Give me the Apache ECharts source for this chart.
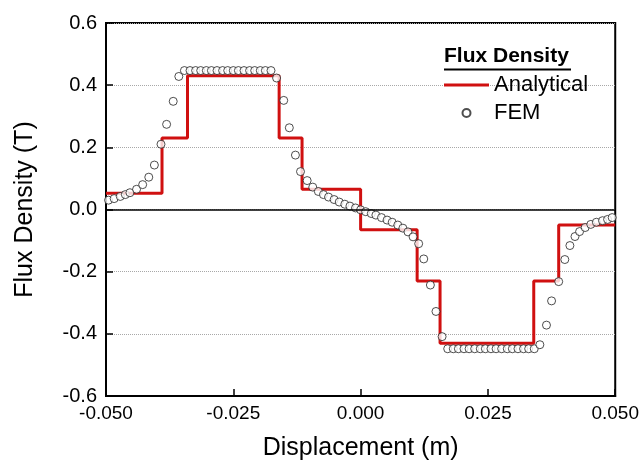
<!DOCTYPE html>
<html>
<head>
<meta charset="utf-8">
<script src="https://cdn.jsdelivr.net/npm/echarts@6/dist/echarts.min.js"></script>
<style>
  html, body { margin: 0; padding: 0; background: #fff; }
  #chart { width: 642px; height: 466px; }
</style>
</head>
<body>
<div id="chart"></div>
<script>
var FONT = '"Liberation Sans", Arial, sans-serif';

// analytical solution: step edges (m) and the level between each pair (T)
var stepEdges = [-0.05, -0.039, -0.034, -0.016, -0.0115, 0, 0.0111, 0.0156, 0.034, 0.0389, 0.05];
var stepLevels = [0.052, 0.23, 0.43, 0.23, 0.065, -0.065, -0.23, -0.43, -0.23, -0.05];

// FEM samples
var femX = [-0.0495, -0.0484, -0.0472, -0.0462, -0.0453, -0.0440, -0.0428, -0.0416, -0.0405, -0.0392,
  -0.0381, -0.0368, -0.0357, -0.0346, -0.0335, -0.0324, -0.0314, -0.0303, -0.0293, -0.0282,
  -0.0271, -0.0261, -0.0250, -0.0240, -0.0229, -0.0218, -0.0208, -0.0197, -0.0187, -0.0176,
  -0.0165, -0.0151, -0.0140, -0.0128, -0.0118, -0.0105, -0.0094, -0.0083, -0.0073, -0.0063,
  -0.0052, -0.0042, -0.0031, -0.0021, -0.0010, 0.0000, 0.0010, 0.0021, 0.0030, 0.0041,
  0.0052, 0.0062, 0.0073, 0.0083, 0.0093, 0.0103, 0.0114, 0.0124, 0.0137, 0.0148,
  0.0160, 0.0171, 0.0182, 0.0192, 0.0203, 0.0213, 0.0224, 0.0235, 0.0245, 0.0256,
  0.0266, 0.0277, 0.0288, 0.0298, 0.0309, 0.0320, 0.0330, 0.0341, 0.0352, 0.0365,
  0.0375, 0.0389, 0.0401, 0.0411, 0.0421, 0.0430, 0.0441, 0.0452, 0.0463, 0.0475,
  0.0485, 0.0494];
var femY = [0.030, 0.035, 0.042, 0.048, 0.054, 0.065, 0.080, 0.104, 0.143, 0.210,
  0.274, 0.348, 0.428, 0.447, 0.447, 0.447, 0.447, 0.447, 0.447, 0.447,
  0.447, 0.447, 0.447, 0.447, 0.447, 0.447, 0.447, 0.447, 0.447, 0.447,
  0.423, 0.351, 0.263, 0.175, 0.122, 0.093, 0.072, 0.058, 0.048, 0.040,
  0.032, 0.024, 0.017, 0.011, 0.005, -0.001, -0.007, -0.013, -0.018, -0.026,
  -0.034, -0.041, -0.050, -0.060, -0.072, -0.088, -0.110, -0.159, -0.243, -0.328,
  -0.409, -0.448, -0.448, -0.448, -0.448, -0.448, -0.448, -0.448, -0.448, -0.448,
  -0.448, -0.448, -0.448, -0.448, -0.448, -0.448, -0.448, -0.448, -0.435, -0.372,
  -0.294, -0.232, -0.161, -0.116, -0.087, -0.071, -0.058, -0.048, -0.041, -0.036,
  -0.032, -0.026];

var xTicks = [-0.05, 0.05, 0.025];   // min, max, interval
var yTicks = [-0.6, 0.6, 0.2];

var stepData = [];
for (var i = 0; i < stepLevels.length; i++) {
  stepData.push([stepEdges[i], stepLevels[i]]);
}
stepData.push([stepEdges[stepEdges.length - 1], stepLevels[stepLevels.length - 1]]);

var femData = femX.map(function(x, i) { return [x, femY[i]]; });

var RED = '#d01010';

var chart = echarts.init(document.getElementById('chart'));

chart.setOption({
  animation: false,
  backgroundColor: '#fff',
  textStyle: { fontFamily: FONT },
  grid: {
    left: 106, right: 26, top: 23, bottom: 67,
    show: true, borderColor: '#000', borderWidth: 2,
    containLabel: false
  },
  legend: {
    orient: 'vertical',
    left: 444, top: 74,
    padding: 0,
    itemWidth: 45, itemHeight: 8, itemGap: 6,
    textStyle: { fontFamily: FONT, fontSize: 22, color: '#000', lineHeight: 22 },
    data: [
      { name: 'Analytical', icon: 'path://M0,0L45,0L45,3L0,3Z' },
      { name: 'FEM' }
    ]
  },
  graphic: [
    {
      type: 'text', left: 444, top: 46,
      style: { text: 'Flux Density', fontFamily: FONT, fontSize: 21, fontWeight: 'bold', fill: '#000' }
    },
    {
      type: 'line',
      shape: { x1: 444, y1: 69.5, x2: 571, y2: 69.5 },
      style: { stroke: '#000', lineWidth: 2 }
    }
  ],
  xAxis: {
    type: 'value',
    min: xTicks[0], max: xTicks[1], interval: xTicks[2],
    name: 'Displacement (m)', nameLocation: 'middle', nameGap: 40,
    nameTextStyle: { fontSize: 25, color: '#000', fontFamily: FONT },
    axisLine: { onZero: false, lineStyle: { color: '#000', width: 2 } },
    axisTick: { inside: true, length: 7, lineStyle: { color: '#000', width: 1.5 } },
    axisLabel: {
      fontSize: 19, color: '#000', margin: 8,
      formatter: function(v) { return v.toFixed(3); }
    },
    splitLine: { show: false }
  },
  yAxis: {
    type: 'value',
    min: yTicks[0], max: yTicks[1], interval: yTicks[2],
    name: 'Flux Density (T)', nameLocation: 'middle', nameGap: 68,
    nameTextStyle: { fontSize: 25, color: '#000', fontFamily: FONT },
    axisLine: { onZero: false, lineStyle: { color: '#000', width: 2 } },
    axisTick: { inside: true, length: 7, lineStyle: { color: '#000', width: 1.5 } },
    axisLabel: {
      fontSize: 20, color: '#000', margin: 9,
      formatter: function(v) { return v.toFixed(1); }
    },
    splitLine: { show: true, lineStyle: { color: '#a8a8a8', type: 'dotted', width: 1 } }
  },
  series: [
    {
      name: 'Analytical',
      type: 'line',
      step: 'end',
      data: stepData,
      symbol: 'none',
      z: 2,
      lineStyle: { color: RED, width: 3 },
      itemStyle: { color: RED },
      markLine: {
        silent: true,
        symbol: 'none',
        label: { show: false },
        lineStyle: { color: '#000', type: 'solid', width: 1.5 },
        data: [{ yAxis: 0 }]
      }
    },
    {
      name: 'FEM',
      type: 'scatter',
      data: femData,
      symbol: 'circle',
      symbolSize: 8,
      z: 3,
      itemStyle: { color: '#fff', borderColor: '#222', borderWidth: 1 }
    }
  ]
});
</script>
</body>
</html>
